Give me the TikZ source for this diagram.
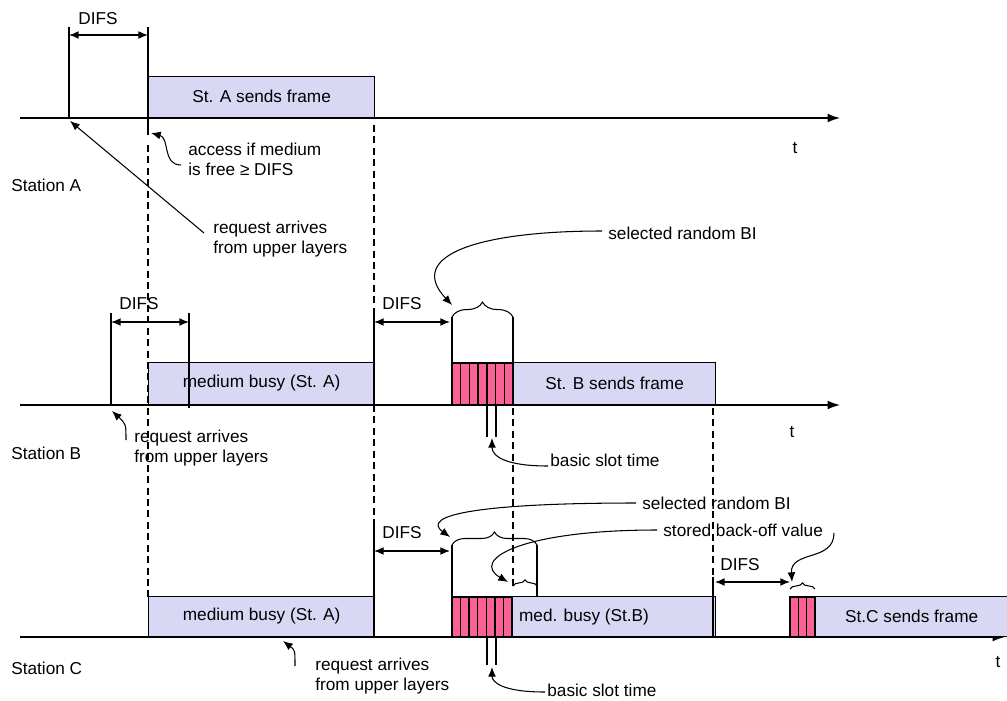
\documentclass[tikz,border=0pt]{standalone}
\usepackage{fontspec}
\setmainfont{Liberation Sans}
\usetikzlibrary{arrows.meta,decorations.pathreplacing}
\definecolor{framefill}{RGB}{216,216,244}
\definecolor{slotfill}{RGB}{250,98,150}
\tikzset{
 lbl/.style={font=\fontsize{9.8}{11.5}\selectfont, inner sep=0pt, align=left, anchor=west},
 ctr/.style={font=\fontsize{9.8}{11.5}\selectfont, inner sep=0pt},
 box/.style={draw, fill=framefill, line width=0.8pt, anchor=south west, inner sep=0pt, font=\fontsize{9.8}{11.5}\selectfont},
 slotbox/.style={draw, fill=slotfill, line width=0.8pt},
 axis/.style={line width=0.8pt, -{Latex[length=7pt,width=5pt]}},
 dim/.style={line width=0.8pt, {Latex[length=5.5pt,width=4.5pt]}-{Latex[length=5.5pt,width=4.5pt]}},
 ptr/.style={line width=0.6pt, -{Latex[length=5.5pt,width=4.5pt]}},
 thinln/.style={line width=0.6pt},
 dsh/.style={line width=0.6pt, dash pattern=on 4pt off 2.5pt},
 brc/.style={line width=0.6pt, decorate, decoration={brace, amplitude=#1}},
}
\begin{document}
\begin{tikzpicture}[x=0.02cm,y=-0.02cm]
\useasboundingbox (0,0) rectangle (1007,700);

% ---------- dashed guide lines ----------
\coordinate (g1a) at (148,145); \coordinate (g1b) at (148,597);
\draw[dsh] (g1a) -- (g1b);
\coordinate (g2a) at (374,125); \coordinate (g2b) at (374,313);
\draw[dsh] (g2a) -- (g2b);
\coordinate (g3a) at (374,405); \coordinate (g3b) at (374,522);
\draw[dsh] (g3a) -- (g3b);
\coordinate (g4a) at (513,408); \coordinate (g4b) at (513,590);
\draw[dsh] (g4a) -- (g4b);
\coordinate (g5a) at (713,408); \coordinate (g5b) at (713,577);
\draw[dsh] (g5a) -- (g5b);

% ---------- Station A ----------
\coordinate (a0) at (20,118); \coordinate (a1) at (840,118);
\draw[axis] (a0) -- (a1);
\node[box, minimum width=4.52cm, minimum height=0.82cm] (fA) at (148,118) {St. A sends frame};
\coordinate (aL1) at (69,27); \coordinate (aL2) at (69,118);
\draw[thinln] (aL1) -- (aL2);
\coordinate (aR1) at (148,27); \coordinate (aR2) at (148,135);
\draw[thinln] (aR1) -- (aR2);
\coordinate (aD1) at (69,35); \coordinate (aD2) at (148,35);
\draw[dim] (aD1) -- (aD2);
\node[ctr] (difsA) at (98,19) {DIFS};
\node[lbl] (accA) at (188,159) {access if medium\\is free ≥ DIFS};
\coordinate (accS) at (181,165); \coordinate (accE) at (151,133);
\draw[ptr] (accS) .. controls (162,165) and (170,138) .. (accE);
\node[ctr] (tA) at (795,148) {t};
\node[lbl] (stA) at (11,185) {Station A};
\node[lbl] (reqA) at (213,239) {request arrives\\from upper layers};
\coordinate (reqAS) at (204,233); \coordinate (reqAE) at (70,121);
\draw[ptr] (reqAS) -- (reqAE);

% ---------- Station B ----------
\coordinate (b0) at (20,405); \coordinate (b1) at (840,405);
\draw[axis] (b0) -- (b1);
\node[box, minimum width=4.52cm, minimum height=0.84cm] (mbB) at (148,405) {medium busy (St. A)};
\coordinate (bL1) at (111,313); \coordinate (bL2) at (111,405);
\draw[thinln] (bL1) -- (bL2);
\coordinate (bR1) at (189,313); \coordinate (bR2) at (189,408);
\draw[thinln] (bR1) -- (bR2);
\coordinate (bM1) at (374,313); \coordinate (bM2) at (374,405);
\draw[thinln] (bM1) -- (bM2);
\coordinate (bD1) at (111,322); \coordinate (bD2) at (189,322);
\draw[dim] (bD1) -- (bD2);
\coordinate (bE1) at (374,322); \coordinate (bE2) at (450,322);
\draw[dim] (bE1) -- (bE2);
\node[ctr] (difsB1) at (139,304) {DIFS};
\node[ctr] (difsB2) at (402,304) {DIFS};
\node[box, minimum width=4.04cm, minimum height=0.84cm] (fB) at (513,405) {St. B sends frame};
\foreach \i in {0,...,6}
  \draw[slotbox] ({452+\i*61/7},363) rectangle ({452+(\i+1)*61/7},405);
\coordinate (bbL1) at (452,317); \coordinate (bbL2) at (452,363);
\draw[thinln] (bbL1) -- (bbL2);
\coordinate (bbR1) at (513,317); \coordinate (bbR2) at (513,363);
\draw[thinln] (bbR1) -- (bbR2);
\draw[brc=8.5pt] (bbL1) -- (bbR1);
\node[lbl] (selB) at (608,233) {selected random BI};
\coordinate (selBS) at (602,231); \coordinate (selBE) at (452,305);
\draw[ptr] (selBS) .. controls (480,231) and (405,255) .. (selBE);
\coordinate (bs1a) at (487,405); \coordinate (bs1b) at (487,437);
\coordinate (bs2a) at (496,405); \coordinate (bs2b) at (496,437);
\draw[thinln] (bs1a) -- (bs1b) (bs2a) -- (bs2b);
\node[lbl] (bstB) at (550,460) {basic slot time};
\coordinate (bstBS) at (548,466); \coordinate (bstBE) at (492,438);
\draw[ptr] (bstBS) .. controls (505,466) and (492,456) .. (bstBE);
\node[ctr] (tB) at (792,432) {t};
\node[lbl] (stB) at (11,453) {Station B};
\node[lbl] (reqB) at (134,448) {request arrives\\from upper layers};
\coordinate (reqBS) at (126,440); \coordinate (reqBE) at (112,411);
\draw[ptr] (reqBS) .. controls (126,424) .. (reqBE);

% ---------- Station C ----------
\coordinate (c0) at (20,637); \coordinate (c1) at (1005,637);
\draw[axis] (c0) -- (c1);
\node[box, minimum width=4.52cm, minimum height=0.80cm] (mbC) at (148,637) {medium busy (St. A)};
\coordinate (cM1) at (374,522); \coordinate (cM2) at (374,637);
\draw[thinln] (cM1) -- (cM2);
\coordinate (cD1) at (374,551); \coordinate (cD2) at (450,551);
\draw[dim] (cD1) -- (cD2);
\node[ctr] (difsC1) at (402,533) {DIFS};
\node[box, minimum width=4.06cm, minimum height=0.80cm] (mbBC) at (512,637) {};
\node[ctr] (mbBCt) at (584,617) {med. busy (St.B)};
\foreach \i in {0,...,6}
  \draw[slotbox] ({452+\i*60/7},597) rectangle ({452+(\i+1)*60/7},637);
\coordinate (cbL1) at (452,545); \coordinate (cbL2) at (452,597);
\draw[thinln] (cbL1) -- (cbL2);
\coordinate (cbR1) at (537,545); \coordinate (cbR2) at (537,597);
\draw[thinln] (cbR1) -- (cbR2);
\draw[brc=7.4pt] (cbL1) -- (cbR1);
\coordinate (csL) at (513,586); \coordinate (csR) at (537,586);
\draw[brc=3.5pt] (csL) -- (csR);
\coordinate (cW1) at (713,577); \coordinate (cW2) at (713,637);
\draw[thinln] (cW1) -- (cW2);
\coordinate (cF1) at (715,582); \coordinate (cF2) at (790,582);
\draw[dim] (cF1) -- (cF2);
\node[ctr] (difsC2) at (740,565) {DIFS};
\node[box, minimum width=3.84cm, minimum height=0.80cm] (fC) at (815,637) {St.C sends frame};
\foreach \i in {0,...,2}
  \draw[slotbox] ({790+\i*25/3},597) rectangle ({790+(\i+1)*25/3},637);
\coordinate (cs2L) at (790,589); \coordinate (cs2R) at (815,589);
\draw[brc=3.5pt] (cs2L) -- (cs2R);
\node[lbl] (selC) at (642,503) {selected random BI};
\coordinate (selCS) at (636,503); \coordinate (selCE) at (450,537);
\draw[ptr] (selCS) .. controls (480,503) and (420,515) .. (selCE);
\node[lbl] (stoC) at (663,530) {stored back-off value};
\coordinate (stoCS) at (657,530); \coordinate (stoCE) at (508,582);
\draw[ptr] (stoCS) .. controls (520,530) and (470,560) .. (stoCE);
\coordinate (sto2S) at (834,533); \coordinate (sto2E) at (792,582);
\draw[ptr] (sto2S) .. controls (834,562) and (790,550) .. (sto2E);
\coordinate (cs1a) at (487,637); \coordinate (cs1b) at (487,665);
\coordinate (cs2a) at (496,637); \coordinate (cs2b) at (496,665);
\draw[thinln] (cs1a) -- (cs1b) (cs2a) -- (cs2b);
\node[lbl] (bstC) at (547,690) {basic slot time};
\coordinate (bstCS) at (545,692); \coordinate (bstCE) at (492,667);
\draw[ptr] (bstCS) .. controls (502,692) and (492,682) .. (bstCE);
\node[ctr] (tC) at (998,662) {t};
\node[lbl] (stC) at (11,668) {Station C};
\node[lbl] (reqC) at (315,676) {request arrives\\from upper layers};
\coordinate (reqCS) at (295,666); \coordinate (reqCE) at (283,641);
\draw[ptr] (reqCS) .. controls (295,650) .. (reqCE);
\end{tikzpicture}
\end{document}
